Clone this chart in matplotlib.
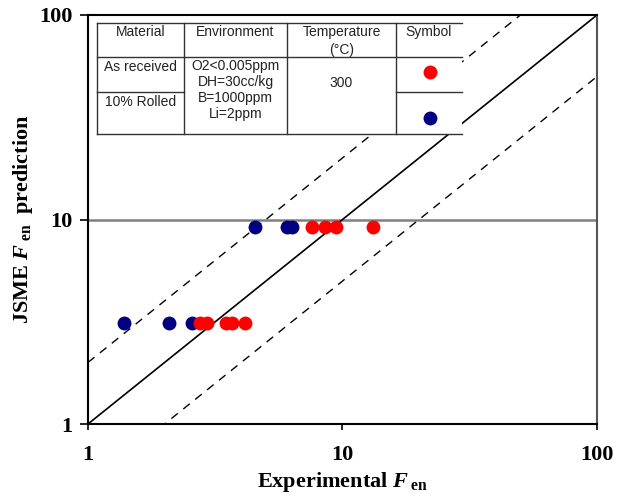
import matplotlib
matplotlib.use("Agg")
import matplotlib.pyplot as plt
from matplotlib.patches import Rectangle
from matplotlib.lines import Line2D

# ---- data ----
as_received_x = [7.6, 8.5, 9.4, 13.2, 2.75, 2.93, 3.49, 3.69, 4.14]
as_received_y = [9.2, 9.2, 9.2, 9.2, 3.12, 3.12, 3.12, 3.12, 3.12]
rolled_x = [4.53, 6.05, 6.34, 1.39, 2.08, 2.57]
rolled_y = [9.2, 9.2, 9.2, 3.12, 3.12, 3.12]
ref_x = [1, 100]
tick_vals = [1, 10, 100]
tick_labels = ["1", "10", "100"]

header = ["Material", "Environment", "Temperature\n(\u00b0C)", "Symbol"]
materials = ["As received", "10% Rolled"]
environment = "O2<0.005ppm\nDH=30cc/kg\nB=1000ppm\nLi=2ppm"
temperature = "300"

RED = "#ff0000"
BLUE = "#000080"

plt.rcParams['mathtext.fontset'] = 'custom'
plt.rcParams['mathtext.rm'] = 'Liberation Serif:bold'
plt.rcParams['mathtext.it'] = 'Liberation Serif:italic:bold'
plt.rcParams['mathtext.bf'] = 'Liberation Serif:bold'

W, H = 626, 501
fig = plt.figure(figsize=(W / 100, H / 100), dpi=100)
ax = fig.add_axes([88 / W, 1 - 424 / H, (597 - 88) / W, (424 - 15) / H])
ax.set_xscale('log')
ax.set_yscale('log')
ax.set_xlim(1, 100)
ax.set_ylim(1, 100)

ax.axhline(10, color='#808080', lw=1.8, zorder=1)
ax.plot(ref_x, ref_x, color='black', lw=1.2, zorder=2)
ax.plot(ref_x, [2 * v for v in ref_x], color='black', lw=1.0, ls=(0, (6, 5)), zorder=2)
ax.plot(ref_x, [v / 2 for v in ref_x], color='black', lw=1.0, ls=(0, (6, 5)), zorder=2)

ax.plot(rolled_x, rolled_y, 'o', color=BLUE, ms=10, mec='none', zorder=3)
ax.plot(as_received_x, as_received_y, 'o', color=RED, ms=10, mec='none', zorder=4)

ax.set_xticks(tick_vals)
ax.set_xticklabels(tick_labels)
ax.set_yticks(tick_vals)
ax.set_yticklabels(tick_labels)
ax.minorticks_off()
ax.tick_params(axis='both', which='major', direction='out', width=1.2, labelsize=16)
ax.tick_params(axis='x', length=4, pad=11)
ax.tick_params(axis='y', length=6, pad=5)
for lab in ax.get_xticklabels() + ax.get_yticklabels():
    lab.set_fontfamily('Liberation Serif')
    lab.set_fontweight('bold')

for s in ['left', 'bottom', 'top']:
    ax.spines[s].set_color('black')
    ax.spines[s].set_linewidth(1.5)
ax.spines['right'].set_color('#555555')
ax.spines['right'].set_linewidth(1.5)

ax.set_xlabel(r"Experimental $F_{\;\mathbf{en}}$", fontfamily='Liberation Serif',
              fontweight='bold', fontsize=16, labelpad=4)
ax.set_ylabel(r"JSME $F_{\;\mathbf{en}}$  prediction", fontfamily='Liberation Serif',
              fontweight='bold', fontsize=16, labelpad=3)

# ---- table (figure pixel coords) ----
def fx(x):
    return x / W

def fy(y):
    return 1 - y / H

tf = fig.transFigure
L, R, T, B = 97, 462, 23, 134
cols = [97, 184, 287, 396, 462]
fig.patches.append(Rectangle((fx(L), fy(B)), fx(R) - fx(L), fy(T) - fy(B),
                             transform=tf, facecolor='white', edgecolor='none', zorder=5))
lc = '#333333'
lw = 1.0
def hline(y, x0, x1):
    fig.lines.append(Line2D([fx(x0), fx(x1)], [fy(y), fy(y)], transform=tf, color=lc, lw=lw, zorder=6))
def vline(x, y0, y1):
    fig.lines.append(Line2D([fx(x), fx(x)], [fy(y0), fy(y1)], transform=tf, color=lc, lw=lw, zorder=6))

hline(T, L, R)
hline(B, L, R)
hline(57, L, R)
hline(92, cols[0], cols[1])
hline(92, cols[3], cols[4])
for c in cols[:4]:
    vline(c, T, B)

tkw = dict(transform=tf, fontfamily='Liberation Sans', fontsize=10, ha='center',
           zorder=7, color='#222222')
fig.text(fx((cols[0] + cols[1]) / 2), fy(32), header[0], va='center', **tkw)
fig.text(fx((cols[1] + cols[2]) / 2), fy(32), header[1], va='center', **tkw)
fig.text(fx((cols[2] + cols[3]) / 2), fy(41), header[2], va='center', linespacing=1.3, **tkw)
fig.text(fx((cols[3] + cols[4]) / 2), fy(32), header[3], va='center', **tkw)
fig.text(fx((cols[0] + cols[1]) / 2), fy(67), materials[0], va='center', **tkw)
fig.text(fx((cols[0] + cols[1]) / 2), fy(102), materials[1], va='center', **tkw)
fig.text(fx((cols[1] + cols[2]) / 2), fy(90), environment, va='center', linespacing=1.2, **tkw)
fig.text(fx((cols[2] + cols[3]) / 2), fy(83), temperature, va='center', **tkw)

fig.lines.append(Line2D([fx(430)], [fy(72)], transform=tf, marker='o', ms=10,
                        color=RED, mec='none', ls='none', zorder=7))
fig.lines.append(Line2D([fx(430)], [fy(118)], transform=tf, marker='o', ms=10,
                        color=BLUE, mec='none', ls='none', zorder=7))

fig.savefig('out.png', dpi=100)
